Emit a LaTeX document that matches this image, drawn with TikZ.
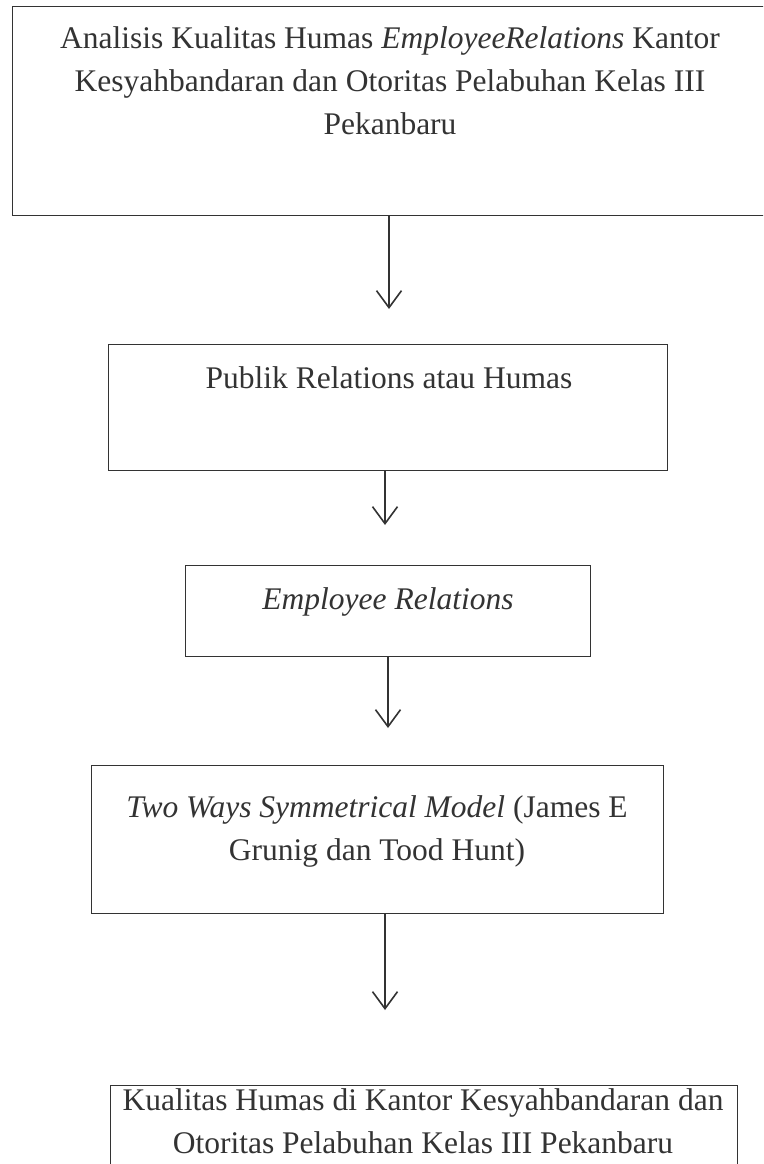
\documentclass[tikz,border=0pt]{standalone}
\usepackage{fontspec}
\setmainfont{Liberation Serif}
\usetikzlibrary{arrows.meta}
\definecolor{ink}{HTML}{333333}
\tikzset{
  box/.style={draw=ink, line width=1.4pt, rectangle, inner sep=0pt},
  txt/.style={text=ink, font=\fontsize{31.5}{43}\selectfont, align=center, inner sep=0pt},
  conn/.style={draw=ink, line width=1.6pt, -{Straight Barb[length=17pt,width=25pt,line width=1.6pt]}}
}
\begin{document}
\begin{tikzpicture}[x=1pt,y=-1pt]
\useasboundingbox (0,0) rectangle (763,1164);
\fill[white] (0,0) rectangle (763,1164);
\clip (0,0) rectangle (763,1164);
% boxes
\node[box, minimum width=770pt, minimum height=209pt, anchor=north west] (b1) at (11.5,6) {};
\node[box, minimum width=559pt, minimum height=126pt, anchor=north west] (b2) at (108,344) {};
\node[box, minimum width=405pt, minimum height=91pt, anchor=north west] (b3) at (185,565) {};
\node[box, minimum width=572pt, minimum height=148pt, anchor=north west] (b4) at (91,765) {};
\node[box, minimum width=627pt, minimum height=120pt, anchor=north west] (b5) at (110,1085) {};
% texts
\node[txt] (t1) at (390,81) {Analisis Kualitas Humas \textit{EmployeeRelations} Kantor\\Kesyahbandaran dan Otoritas Pelabuhan Kelas III\\Pekanbaru};
\node[txt] (t2) at (389,378) {Publik Relations atau Humas};
\node[txt] (t3) at (388,602) {\textit{Employee Relations}};
\node[txt] (t4) at (377,831) {\textit{Two Ways Symmetrical Model} (James E\\Grunig dan Tood Hunt)};
\node[txt] (t5) at (423,1121) {Kualitas Humas di Kantor Kesyahbandaran dan\\Otoritas Pelabuhan Kelas III Pekanbaru};
% arrow ends
\coordinate (e1) at (389,309);
\coordinate (e2) at (385,525);
\coordinate (e3) at (388,728);
\coordinate (e4) at (385,1010);
\draw[conn] (b1.south -| e1) -- (e1);
\draw[conn] (b2.south -| e2) -- (e2);
\draw[conn] (b3.south -| e3) -- (e3);
\draw[conn] (b4.south -| e4) -- (e4);
\end{tikzpicture}
\end{document}
